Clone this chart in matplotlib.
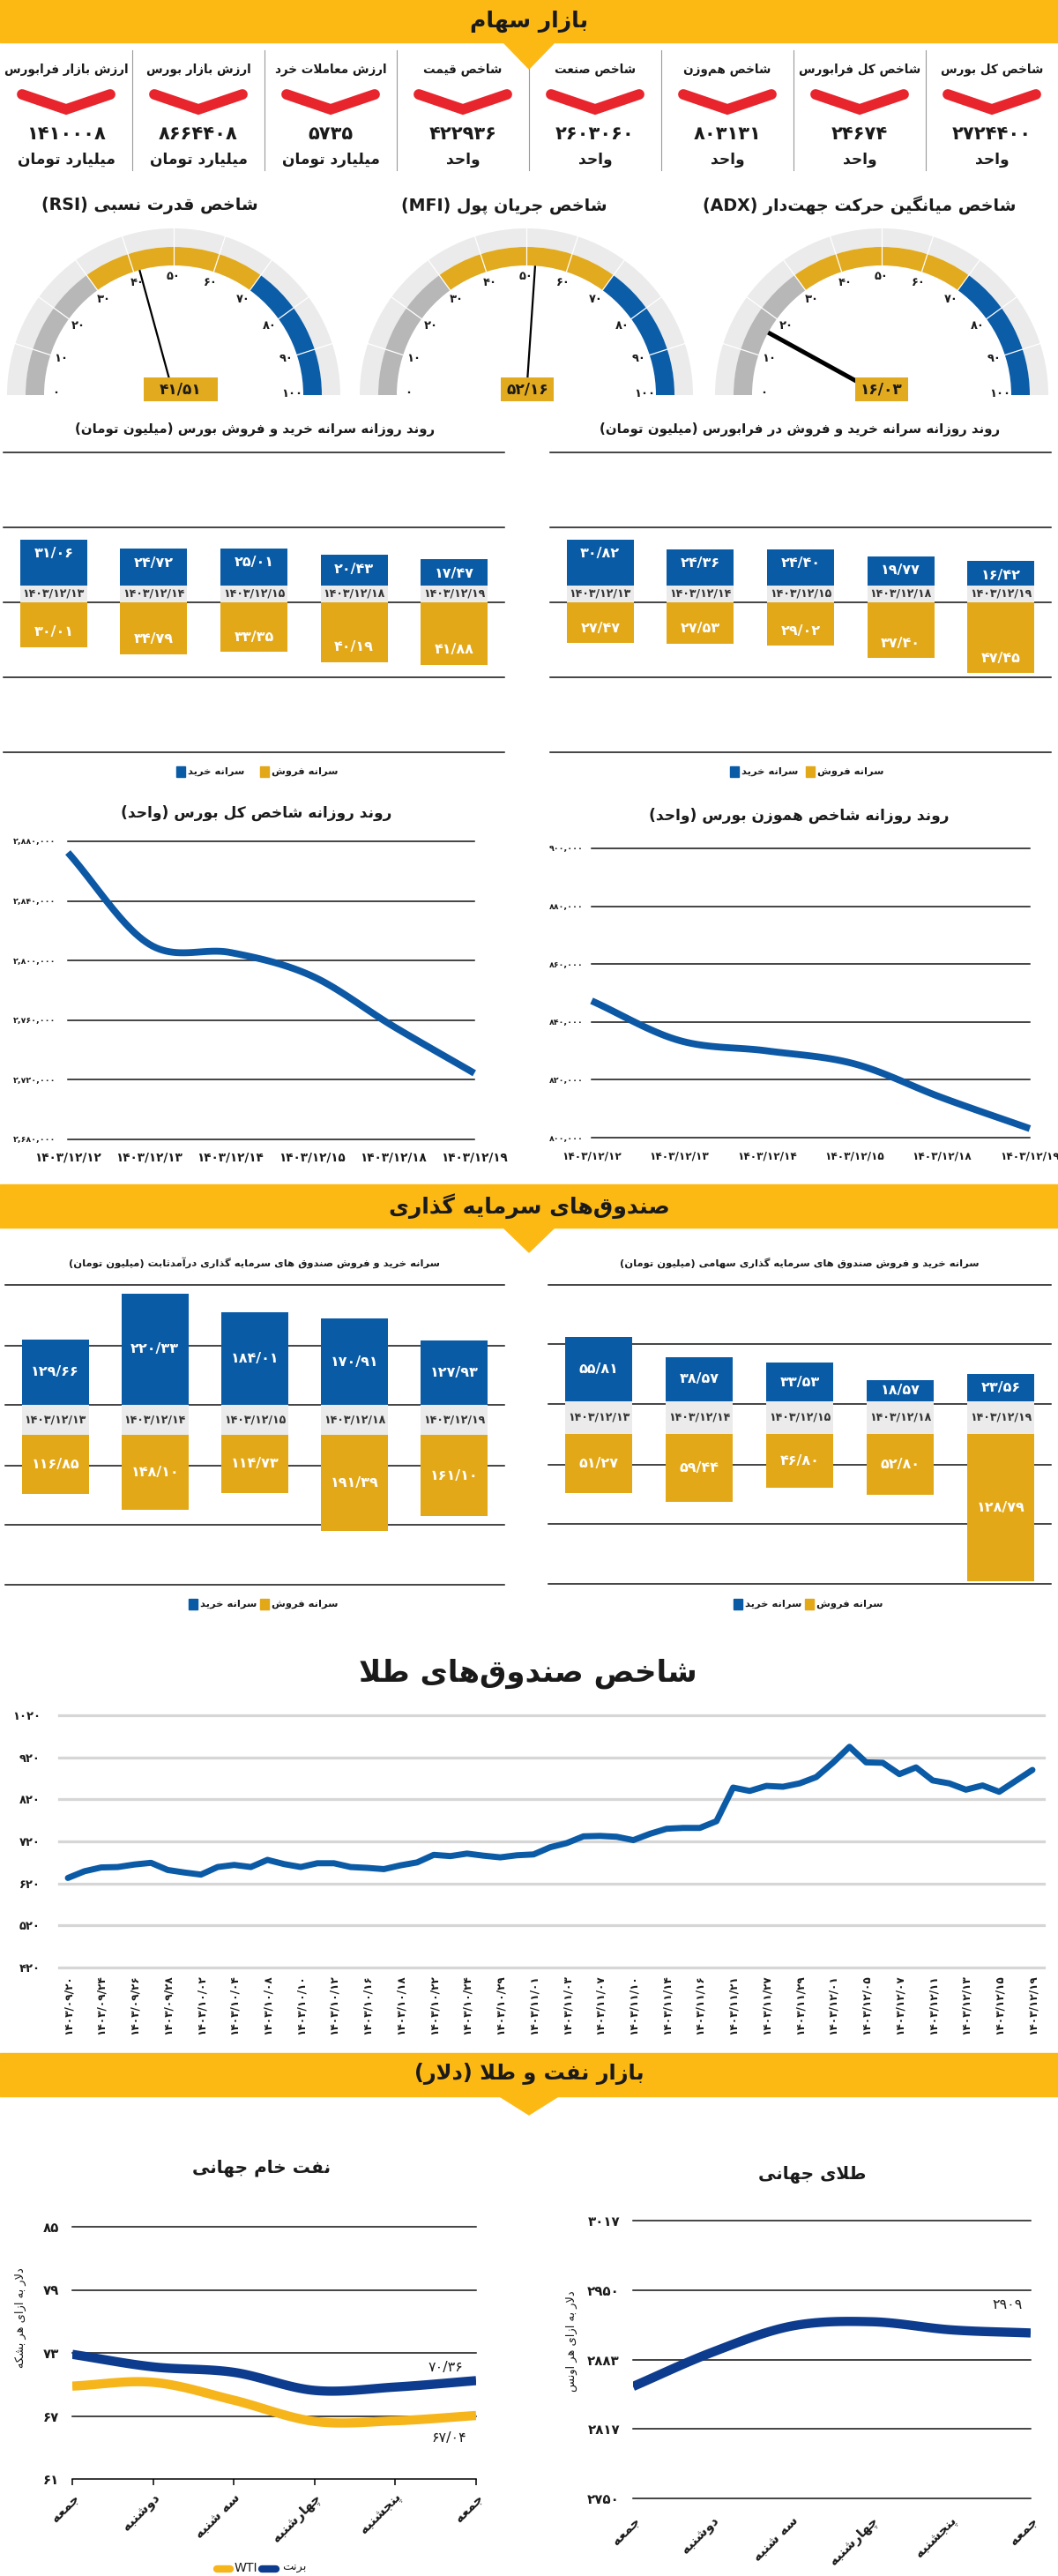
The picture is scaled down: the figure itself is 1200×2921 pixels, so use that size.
import numpy as np
import matplotlib
matplotlib.use("Agg")
import matplotlib.pyplot as plt
from matplotlib.patches import Rectangle, Polygon, Wedge
from matplotlib import font_manager
from matplotlib.ft2font import FT2Font

plt.rcParams['font.family'] = ['DejaVu Sans']

# ---------------- DATA ----------------
kpi_titles = ["شاخص کل بورس", "شاخص کل فرابورس", "شاخص هم\u200cوزن", "شاخص صنعت",
              "شاخص قیمت", "ارزش معاملات خرد", "ارزش بازار بورس", "ارزش بازار فرابورس"]
kpi_values = ["2724400", "24674", "803131", "2603060", "422936", "5735", "8664408", "1410008"]
kpi_units = ["واحد", "واحد", "واحد", "واحد", "واحد", "میلیارد تومان", "میلیارد تومان", "میلیارد تومان"]

gauge_titles = ["شاخص قدرت نسبی (RSI)", "شاخص جریان پول (MFI)", "شاخص میانگین حرکت جهت\u200cدار (ADX)"]
gauge_values = [41.51, 52.16, 16.03]

bar_dates = ["1403/12/13", "1403/12/14", "1403/12/15", "1403/12/18", "1403/12/19"]
bourse_buy = [31.06, 24.72, 25.01, 20.43, 17.47]
bourse_sell = [30.01, 34.79, 33.35, 40.19, 41.88]
fara_buy = [30.82, 24.36, 24.40, 19.77, 16.42]
fara_sell = [27.47, 27.53, 29.02, 37.40, 47.45]

idx_dates = ["1403/12/12", "1403/12/13", "1403/12/14", "1403/12/15", "1403/12/18", "1403/12/19"]
total_index = [2872500, 2811000, 2805400, 2789700, 2756000, 2724400]
total_levels = [2680000, 2720000, 2760000, 2800000, 2840000, 2880000]
eqw_index = [847300, 833600, 830000, 825500, 813800, 803131]
eqw_levels = [800000, 820000, 840000, 860000, 880000, 900000]

fixed_buy = [129.66, 220.33, 184.01, 170.91, 127.93]
fixed_sell = [116.85, 148.10, 114.73, 191.39, 161.10]
equity_buy = [55.81, 38.57, 33.53, 18.57, 23.56]
equity_sell = [51.27, 59.44, 46.80, 52.80, 128.79]

gold_fund_dates = ["1403/09/20", "1403/09/24", "1403/09/26", "1403/09/28", "1403/10/02",
                   "1403/10/04", "1403/10/08", "1403/10/10", "1403/10/12", "1403/10/16",
                   "1403/10/18", "1403/10/22", "1403/10/24", "1403/10/29", "1403/11/01",
                   "1403/11/03", "1403/11/07", "1403/11/10", "1403/11/14", "1403/11/16",
                   "1403/11/21", "1403/11/27", "1403/11/29", "1403/12/01", "1403/12/05",
                   "1403/12/07", "1403/12/11", "1403/12/13", "1403/12/15", "1403/12/19"]
gold_fund_index = [633, 649, 658, 659, 665, 669, 652, 646, 641, 659,
                   664, 659, 676, 666, 659, 668, 668, 659, 657, 654,
                   663, 670, 688, 685, 691, 686, 682, 687, 689, 706,
                   716, 732, 733, 731, 723, 738, 750, 752, 752, 768,
                   848, 840, 852, 850, 858, 873, 907, 945, 908, 907,
                   880, 896, 865, 858, 843, 853, 838, 864, 890]
gold_fund_levels = [420, 520, 620, 720, 820, 920, 1020]

week_days = ["جمعه", "دوشنبه", "سه شنبه", "چهارشنبه", "پنجشنبه", "جمعه"]
brent = [72.86, 71.67, 71.15, 69.43, 69.75, 70.36]
wti = [69.84, 70.20, 68.50, 66.48, 66.54, 67.04]
oil_levels = [61, 67, 73, 79, 85]
gold_oz = [2857.6, 2890.6, 2915.7, 2919.8, 2912.0, 2909.0]
gold_levels = [2750, 2817, 2883, 2950, 3017]

# ---------------- colours ----------------
YEL = '#fdb913'
BLUE = '#0a5ba6'
GOLD = '#e3a818'
NAVY = '#0d3b8e'
RED = '#e8242c'
DARK = '#1a1a1a'

# ---------------- Persian text helpers ----------------
def _cmap(weight):
    path = font_manager.findfont(font_manager.FontProperties(family='DejaVu Sans', weight=weight))
    return set(FT2Font(path).get_charmap().keys())

CM_N = _cmap('normal')
CM_B = _cmap('bold')
BOLD = 'bold' if (0xFE8D in CM_B and 0xFEB5 in CM_B and 0xFEE9 in CM_B) else 'normal'
CM = CM_N & CM_B if BOLD == 'bold' else CM_N

FORMS = {
    '\u0621': ('\uFE80',),
    '\u0622': ('\uFE81', '\uFE82'), '\u0623': ('\uFE83', '\uFE84'),
    '\u0624': ('\uFE85', '\uFE86'), '\u0625': ('\uFE87', '\uFE88'),
    '\u0626': ('\uFE89', '\uFE8A', '\uFE8B', '\uFE8C'),
    '\u0627': ('\uFE8D', '\uFE8E'),
    '\u0628': ('\uFE8F', '\uFE90', '\uFE91', '\uFE92'),
    '\u0629': ('\uFE93', '\uFE94'),
    '\u062A': ('\uFE95', '\uFE96', '\uFE97', '\uFE98'),
    '\u062B': ('\uFE99', '\uFE9A', '\uFE9B', '\uFE9C'),
    '\u062C': ('\uFE9D', '\uFE9E', '\uFE9F', '\uFEA0'),
    '\u062D': ('\uFEA1', '\uFEA2', '\uFEA3', '\uFEA4'),
    '\u062E': ('\uFEA5', '\uFEA6', '\uFEA7', '\uFEA8'),
    '\u062F': ('\uFEA9', '\uFEAA'), '\u0630': ('\uFEAB', '\uFEAC'),
    '\u0631': ('\uFEAD', '\uFEAE'), '\u0632': ('\uFEAF', '\uFEB0'),
    '\u0633': ('\uFEB1', '\uFEB2', '\uFEB3', '\uFEB4'),
    '\u0634': ('\uFEB5', '\uFEB6', '\uFEB7', '\uFEB8'),
    '\u0635': ('\uFEB9', '\uFEBA', '\uFEBB', '\uFEBC'),
    '\u0636': ('\uFEBD', '\uFEBE', '\uFEBF', '\uFEC0'),
    '\u0637': ('\uFEC1', '\uFEC2', '\uFEC3', '\uFEC4'),
    '\u0638': ('\uFEC5', '\uFEC6', '\uFEC7', '\uFEC8'),
    '\u0639': ('\uFEC9', '\uFECA', '\uFECB', '\uFECC'),
    '\u063A': ('\uFECD', '\uFECE', '\uFECF', '\uFED0'),
    '\u0641': ('\uFED1', '\uFED2', '\uFED3', '\uFED4'),
    '\u0642': ('\uFED5', '\uFED6', '\uFED7', '\uFED8'),
    '\u0643': ('\uFED9', '\uFEDA', '\uFEDB', '\uFEDC'),
    '\u0644': ('\uFEDD', '\uFEDE', '\uFEDF', '\uFEE0'),
    '\u0645': ('\uFEE1', '\uFEE2', '\uFEE3', '\uFEE4'),
    '\u0646': ('\uFEE5', '\uFEE6', '\uFEE7', '\uFEE8'),
    '\u0647': ('\uFEE9', '\uFEEA', '\uFEEB', '\uFEEC'),
    '\u0648': ('\uFEED', '\uFEEE'),
    '\u0649': ('\uFEEF', '\uFEF0'),
    '\u064A': ('\uFEF1', '\uFEF2', '\uFEF3', '\uFEF4'),
    '\u067E': ('\uFB56', '\uFB57', '\uFB58', '\uFB59'),
    '\u0686': ('\uFB7A', '\uFB7B', '\uFB7C', '\uFB7D'),
    '\u0698': ('\uFB8A', '\uFB8B'),
    '\u06A9': ('\uFB8E', '\uFB8F', '\uFB90', '\uFB91'),
    '\u06AF': ('\uFB92', '\uFB93', '\uFB94', '\uFB95'),
    '\u06CC': ('\uFBFC', '\uFBFD', '\uFBFE', '\uFBFF'),
}
FALLBACK = {'\u06CC': ('\uFEEF', '\uFEF0', '\uFEF3', '\uFEF4'),
            '\u06A9': ('\uFED9', '\uFEDA', '\uFEDB', '\uFEDC')}
for k, v in list(FORMS.items()):
    if not all(ord(c) in CM for c in v):
        fb = FALLBACK.get(k)
        if fb and all(ord(c) in CM for c in fb):
            FORMS[k] = fb
        else:
            FORMS[k] = tuple(f if ord(f) in CM else k for f in v)
LAM_ALEF = {'\u0627': ('\uFEFB', '\uFEFC'), '\u0622': ('\uFEF5', '\uFEF6'),
            '\u0623': ('\uFEF7', '\uFEF8'), '\u0625': ('\uFEF9', '\uFEFA')}

if 0x06F4 in CM:
    DIG = '۰۱۲۳۴۵۶۷۸۹'
elif 0x0664 in CM:
    DIG = '٠١٢٣٤٥٦٧٨٩'
else:
    DIG = '0123456789'


def pd(s):
    return str(s).translate(str.maketrans('0123456789', DIG))


def shape(s):
    out = []
    i, n = 0, len(s)
    prev_fw = False
    joinable = lambda ch: ch in FORMS and len(FORMS[ch]) >= 2
    while i < n:
        c = s[i]
        if c == '\u0644' and i + 1 < n and s[i + 1] in LAM_ALEF:
            f = LAM_ALEF[s[i + 1]]
            out.append(f[1] if prev_fw else f[0])
            prev_fw = False
            i += 2
            continue
        if c in FORMS:
            forms = FORMS[c]
            nxt = s[i + 1] if i + 1 < n else ''
            can_next = len(forms) == 4 and joinable(nxt)
            if len(forms) == 1:
                out.append(forms[0]); can_next = False
            elif prev_fw and can_next:
                out.append(forms[3])
            elif prev_fw:
                out.append(forms[1])
            elif can_next:
                out.append(forms[2])
            else:
                out.append(forms[0])
            prev_fw = can_next
            i += 1
            continue
        if c == '\u200c':
            prev_fw = False
            i += 1
            continue
        out.append(c)
        prev_fw = False
        i += 1
    return ''.join(out)


MIRROR = {'(': ')', ')': '(', '[': ']', ']': '['}


def _typ(ch):
    cp = ord(ch)
    if (0x06F0 <= cp <= 0x06F9) or (0x0660 <= cp <= 0x0669) or (ch.isascii() and ch.isalnum()):
        return 'L'
    if 0x0600 <= cp <= 0x06FF or 0xFB50 <= cp <= 0xFDFF or 0xFE70 <= cp <= 0xFEFF:
        return 'R'
    return 'N'


def fa(s):
    t = shape(s)
    ty = [_typ(c) for c in t]
    n = len(t)
    res = ty[:]
    for i in range(n):
        if ty[i] == 'N':
            p = next((ty[j] for j in range(i - 1, -1, -1) if ty[j] != 'N'), 'R')
            q = next((ty[j] for j in range(i + 1, n) if ty[j] != 'N'), 'R')
            res[i] = 'L' if (p == 'L' and q == 'L') else 'R'
    runs = []
    for c, r in zip(t, res):
        if runs and runs[-1][0] == r:
            runs[-1][1].append(c)
        else:
            runs.append([r, [c]])
    vis = ''
    for r, chars in reversed(runs):
        if r == 'R':
            vis += ''.join(MIRROR.get(c, c) for c in reversed(chars))
        else:
            vis += ''.join(chars)
    return vis


def num(v):
    return pd(f"{v:.2f}".replace('.', '/'))


def smooth(x, y, n=24):
    P = np.column_stack([np.asarray(x, float), np.asarray(y, float)])
    P = np.vstack([2 * P[0] - P[1], P, 2 * P[-1] - P[-2]])
    t = np.linspace(0, 1, n, endpoint=False)[:, None]
    segs = []
    for i in range(1, len(P) - 2):
        p0, p1, p2, p3 = P[i - 1], P[i], P[i + 1], P[i + 2]
        segs.append(0.5 * (2 * p1 + (-p0 + p2) * t + (2 * p0 - 5 * p1 + 4 * p2 - p3) * t ** 2
                           + (-p0 + 3 * p1 - 3 * p2 + p3) * t ** 3))
    segs.append(P[-2][None, :])
    S = np.vstack(segs)
    return S[:, 0], S[:, 1]


# ---------------- figure ----------------
W, H = 1200, 2921
fig = plt.figure(figsize=(W / 100, H / 100), dpi=100)
fig.patch.set_facecolor('white')
bg = fig.add_axes([0, 0, 1, 1])
bg.set_xlim(0, W)
bg.set_ylim(H, 0)
bg.axis('off')


def pax(x0, y0, x1, y1):
    ax = fig.add_axes([x0 / W, 1 - y1 / H, (x1 - x0) / W, (y1 - y0) / H])
    ax.patch.set_alpha(0)
    return ax


def T(x, y, s, px, bold=True, color=DARK, ha='center', va='center', rot=0, z=5):
    bg.text(x, y, s, fontsize=px * 0.72, fontweight=BOLD if bold else 'normal', color=color,
            ha=ha, va=va, rotation=rot, zorder=z)


def banner(y0, y1, tip, title):
    bg.add_patch(Rectangle((0, y0), W, y1 - y0, color=YEL, zorder=2))
    bg.add_patch(Polygon([(570, y1 - 1), (630, y1 - 1), (600, tip)], closed=True, color=YEL, zorder=2))
    T(600, (y0 + y1) / 2, fa(title), 25)


# ---------------- section 1 : header ----------------
banner(0, 48, 78, "بازار سهام")
for k in range(1, 8):
    bg.plot([150 * k, 150 * k], [57, 193], color='#9a9a9a', lw=0.8, zorder=1)
for i in range(8):
    cx = 1125 - 150 * i
    T(cx, 79, fa(kpi_titles[i]), 13.5)
    bg.plot([cx - 50, cx, cx + 50], [107, 124, 107], color=RED, lw=8.5,
            solid_capstyle='round', solid_joinstyle='miter', zorder=3)
    T(cx, 152, pd(kpi_values[i]), 21)
    T(cx, 181, fa(kpi_units[i]), 17)

# ---------------- gauges ----------------
g_cx = [197, 597, 1000]
g_title_x = [170, 572, 975]
g_box = [(8, 84), (1, 60), (0, 60)]
g_lw = [1.6, 1.6, 3.6]
for gi in range(3):
    cx = g_cx[gi]
    T(g_title_x[gi], 233, fa(gauge_titles[gi]), 19)
    ax = pax(cx - 200, 248, cx + 200, 460)
    ax.set_xlim(-200, 200)
    ax.set_ylim(-12, 200)
    ax.axis('off')
    ax.add_patch(Wedge((0, 0), 189, 0, 180, width=21, fc='#ebebeb', ec='none'))
    for v0, v1, col in [(0, 30, '#b7b7b7'), (30, 70, '#e2aa1e'), (70, 100, '#0b5da8')]:
        ax.add_patch(Wedge((0, 0), 168, 180 - 1.8 * v1, 180 - 1.8 * v0, width=21, fc=col, ec='none'))
    for v in range(10, 100, 10):
        a = np.radians(180 - 1.8 * v)
        ax.plot([147 * np.cos(a), 189 * np.cos(a)], [147 * np.sin(a), 189 * np.sin(a)],
                color='white', lw=0.9)
    for v in range(0, 101, 10):
        a = np.radians(180 - 1.8 * v)
        r = 134
        ax.text(r * np.cos(a), r * np.sin(a) + (2 if v in (0, 100) else 0), pd(v),
                fontsize=13 * 0.72, fontweight=BOLD, color=DARK, ha='center', va='center')
    a = np.radians(180 - 1.8 * gauge_values[gi])
    ax.plot([0, 147 * np.cos(a)], [0, 147 * np.sin(a)], color='black', lw=g_lw[gi],
            solid_capstyle='butt', zorder=4)
    off, bw = g_box[gi]
    ax.add_patch(Rectangle((off - bw / 2, -7), bw, 27, fc='#e2aa1e', ec='none', zorder=5))
    ax.text(off, 6.5, num(gauge_values[gi]), fontsize=17 * 0.72, fontweight=BOLD, color=DARK,
            ha='center', va='center', zorder=6)


# ---------------- bar panels ----------------
def bar_panel(px0, px1, grid_px, blue_px, yel_px, scale, buy, sell, dates, mode):
    ax = pax(px0, grid_px[0], px1, grid_px[-1])
    n = len(buy)
    ax.set_xlim(-0.5, n - 0.5)
    ax.set_ylim(-(grid_px[-1] - blue_px) / scale, (blue_px - grid_px[0]) / scale)
    ax.axis('off')
    for g in grid_px:
        ax.axhline((blue_px - g) / scale, color='#111111', lw=1.1, zorder=1, clip_on=False)
    ytop = -(yel_px - blue_px) / scale
    x = np.arange(n)
    w = 0.67
    ax.bar(x, [-ytop] * n, w, bottom=ytop, color='#ebebeb', zorder=2)
    ax.bar(x, buy, w, bottom=0, color=BLUE, zorder=3)
    ax.bar(x, [-v for v in sell], w, bottom=ytop, color=GOLD, zorder=3)
    for i in range(n):
        ax.text(i, ytop / 2, pd(dates[i]), fontsize=12.5 * 0.72, fontweight=BOLD, color='#333333',
                ha='center', va='center', zorder=4)
        if mode == 'end':
            yb = buy[i] - 16 / scale
            ys = ytop - sell[i] + 17 / scale
        else:
            yb = buy[i] / 2
            ys = ytop - sell[i] / 2
        ax.text(i, yb, num(buy[i]), fontsize=16 * 0.72, fontweight=BOLD, color='white',
                ha='center', va='center', zorder=5)
        ax.text(i, ys, num(sell[i]), fontsize=16 * 0.72, fontweight=BOLD, color='white',
                ha='center', va='center', zorder=5)


def legend(y, xb, xg):
    bg.add_patch(Rectangle((xb, y - 6), 10, 12, color=BLUE, zorder=3))
    T(xb + 13, y, fa("سرانه خرید"), 11.5, ha='left')
    bg.add_patch(Rectangle((xg, y - 6), 10, 12, color=GOLD, zorder=3))
    T(xg + 13, y, fa("سرانه فروش"), 11.5, ha='left')


T(289, 487, fa("روند روزانه سرانه خرید و فروش بورس (میلیون تومان)"), 15)
T(907, 487, fa("روند روزانه سرانه خرید و فروش در فرابورس (میلیون تومان)"), 15)
grid1 = [513, 598, 683, 768, 853]
bar_panel(4, 572, grid1, 664, 683, 1.69, bourse_buy, bourse_sell, bar_dates, 'end')
bar_panel(624, 1192, grid1, 664, 683, 1.69, fara_buy, fara_sell, bar_dates, 'end')
legend(875, 200, 295)
legend(875, 828, 914)

# ---------------- index line charts ----------------
T(291, 922, fa("روند روزانه شاخص کل بورس (واحد)"), 17)
T(906, 925, fa("روند روزانه شاخص هموزن بورس (واحد)"), 17)


def index_panel(box, levels, values, ypad_px, xpad_px, xsize):
    ax = pax(*box)
    ax.set_xlim(0, len(values) - 1)
    ax.set_ylim(levels[0], levels[-1])
    for s in ax.spines.values():
        s.set_visible(False)
    for lv in levels:
        ax.axhline(lv, color='#111111', lw=1.1, zorder=1, clip_on=False)
    ax.set_yticks(levels)
    ax.set_yticklabels([pd(f"{v:,}") for v in levels], fontsize=9.5 * 0.72, fontweight=BOLD, color=DARK)
    ax.set_xticks(range(len(values)))
    ax.set_xticklabels([pd(d) for d in idx_dates], fontsize=xsize * 0.72, fontweight=BOLD, color=DARK)
    ax.tick_params(axis='y', length=0, pad=ypad_px * 0.72)
    ax.tick_params(axis='x', length=0, pad=xpad_px * 0.72)
    sx, sy = smooth(range(len(values)), values)
    ax.plot(sx, sy, color='#0c58a5', lw=5.6, solid_capstyle='butt', zorder=3, clip_on=False)


index_panel((77, 954, 538, 1292), total_levels, total_index, 14, 13, 13.5)
index_panel((671, 962, 1168, 1290), eqw_levels, eqw_index, 9, 14, 12)

# ---------------- funds ----------------
banner(1343, 1392, 1420, "صندوق\u200cهای سرمایه گذاری")
T(289, 1432, fa("سرانه خرید و فروش صندوق های سرمایه گذاری درآمدثابت (میلیون تومان)"), 11.5)
T(907, 1432, fa("سرانه خرید و فروش صندوق های سرمایه گذاری سهامی (میلیون تومان)"), 11.5)
bar_panel(6, 572, [1457, 1526, 1593, 1662, 1729, 1797], 1593, 1627, 0.572,
          fixed_buy, fixed_sell, bar_dates, 'center')
bar_panel(622, 1192, [1457, 1524, 1592, 1661, 1728, 1796], 1589, 1626, 1.30,
          equity_buy, equity_sell, bar_dates, 'center')
legend(1819, 214, 295)
legend(1819, 832, 913)

# ---------------- gold funds index ----------------
T(599, 1898, fa("شاخص صندوق\u200cهای طلا"), 34)
ax = pax(67, 1945, 1184, 2231)
npts = len(gold_fund_index)
step = (1171 - 77) / (npts - 1)
ax.set_xlim(-(77 - 67) / step, (npts - 1) + (1184 - 1171) / step)
ax.set_ylim(gold_fund_levels[0], gold_fund_levels[-1])
for s in ax.spines.values():
    s.set_visible(False)
for lv in gold_fund_levels:
    ax.axhline(lv, color='#d6d6d6', lw=2.3, zorder=1, clip_on=False)
ax.set_yticks(gold_fund_levels)
ax.set_yticklabels([pd(v) for v in gold_fund_levels], fontsize=13 * 0.72, fontweight=BOLD, color=DARK)
ax.set_xticks(range(0, npts, 2))
ax.set_xticklabels([pd(d) for d in gold_fund_dates], rotation=90, fontsize=12 * 0.72,
                   fontweight=BOLD, color=DARK)
ax.tick_params(axis='y', length=0, pad=21 * 0.72)
ax.tick_params(axis='x', length=0, pad=8 * 0.72)
ax.plot(range(npts), gold_fund_index, color='#0a5aa6', lw=5.0, solid_joinstyle='round',
        solid_capstyle='round', zorder=3)

# ---------------- oil & gold ----------------
bg.add_patch(Rectangle((0, 2328), W, 49, color=YEL, zorder=2))
bg.add_patch(Polygon([(565, 2376), (635, 2376), (600, 2398)], closed=True, color=YEL, zorder=2))
T(600, 2352, fa("بازار نفت و طلا (دلار)"), 24)

T(297, 2459, fa("نفت خام جهانی"), 20)
T(921, 2466, fa("طلای جهانی"), 20)

ax = pax(82, 2525, 540, 2811)
ax.set_xlim(0, 5)
ax.set_ylim(oil_levels[0], oil_levels[-1])
for k, s in ax.spines.items():
    s.set_visible(k == 'bottom')
ax.spines['bottom'].set_linewidth(1.1)
for lv in oil_levels[1:]:
    ax.axhline(lv, color='#111111', lw=1.1, zorder=1, clip_on=False)
ax.set_yticks(oil_levels)
ax.set_yticklabels([pd(v) for v in oil_levels], fontsize=15 * 0.72, fontweight=BOLD, color=DARK)
ax.tick_params(axis='y', length=0, pad=15 * 0.72)
ax.set_xticks(range(6))
ax.set_xticklabels([fa(d) for d in week_days], rotation=45, ha='right', rotation_mode='anchor',
                   fontsize=15 * 0.72, fontweight=BOLD, color=DARK)
ax.tick_params(axis='x', length=5, width=1.1, pad=5, direction='out')
sx, sy = smooth(range(6), wti)
ax.plot(sx, sy, color='#f6b51b', lw=7.5, solid_capstyle='butt', zorder=3)
sx, sy = smooth(range(6), brent)
ax.plot(sx, sy, color=NAVY, lw=7.5, solid_capstyle='butt', zorder=4)
T(505, 2685, num(brent[-1]), 16, bold=False)
T(509, 2764, num(wti[-1]), 16, bold=False)
T(23, 2628, fa("دلار به ازای هر بشکه"), 13, bold=False, rot=90)
# oil legend
bg.plot([246, 261], [2913, 2913], color='#f6b51b', lw=6, solid_capstyle='round', zorder=3)
T(266, 2912, "WTI", 14, bold=False, ha='left')
bg.plot([297, 313], [2913, 2913], color=NAVY, lw=6, solid_capstyle='round', zorder=3)
T(320, 2912, fa("برنت"), 13, bold=False, ha='left')

ax = pax(718, 2518, 1169, 2833)
ax.set_xlim(0, 5)
ax.set_ylim(gold_levels[0], gold_levels[-1])
for s in ax.spines.values():
    s.set_visible(False)
for lv in gold_levels:
    ax.axhline(lv, color='#111111', lw=1.1, zorder=1, clip_on=False)
ax.set_yticks(gold_levels)
ax.set_yticklabels([pd(v) for v in gold_levels], fontsize=15 * 0.72, fontweight=BOLD, color=DARK)
ax.tick_params(axis='y', length=0, pad=15 * 0.72)
ax.set_xticks(range(6))
ax.set_xticklabels([fa(d) for d in week_days], rotation=45, ha='right', rotation_mode='anchor',
                   fontsize=15 * 0.72, fontweight=BOLD, color=DARK)
ax.tick_params(axis='x', length=0, pad=18 * 0.72)
sx, sy = smooth(range(6), gold_oz)
ax.plot(sx, sy, color=NAVY, lw=7.5, solid_capstyle='butt', zorder=3)
T(1143, 2614, pd(int(gold_oz[-1])), 16, bold=False)
T(648, 2655, fa("دلار به ازای هر اونس"), 13, bold=False, rot=90)

fig.savefig("out.png", dpi=100, facecolor='white')
